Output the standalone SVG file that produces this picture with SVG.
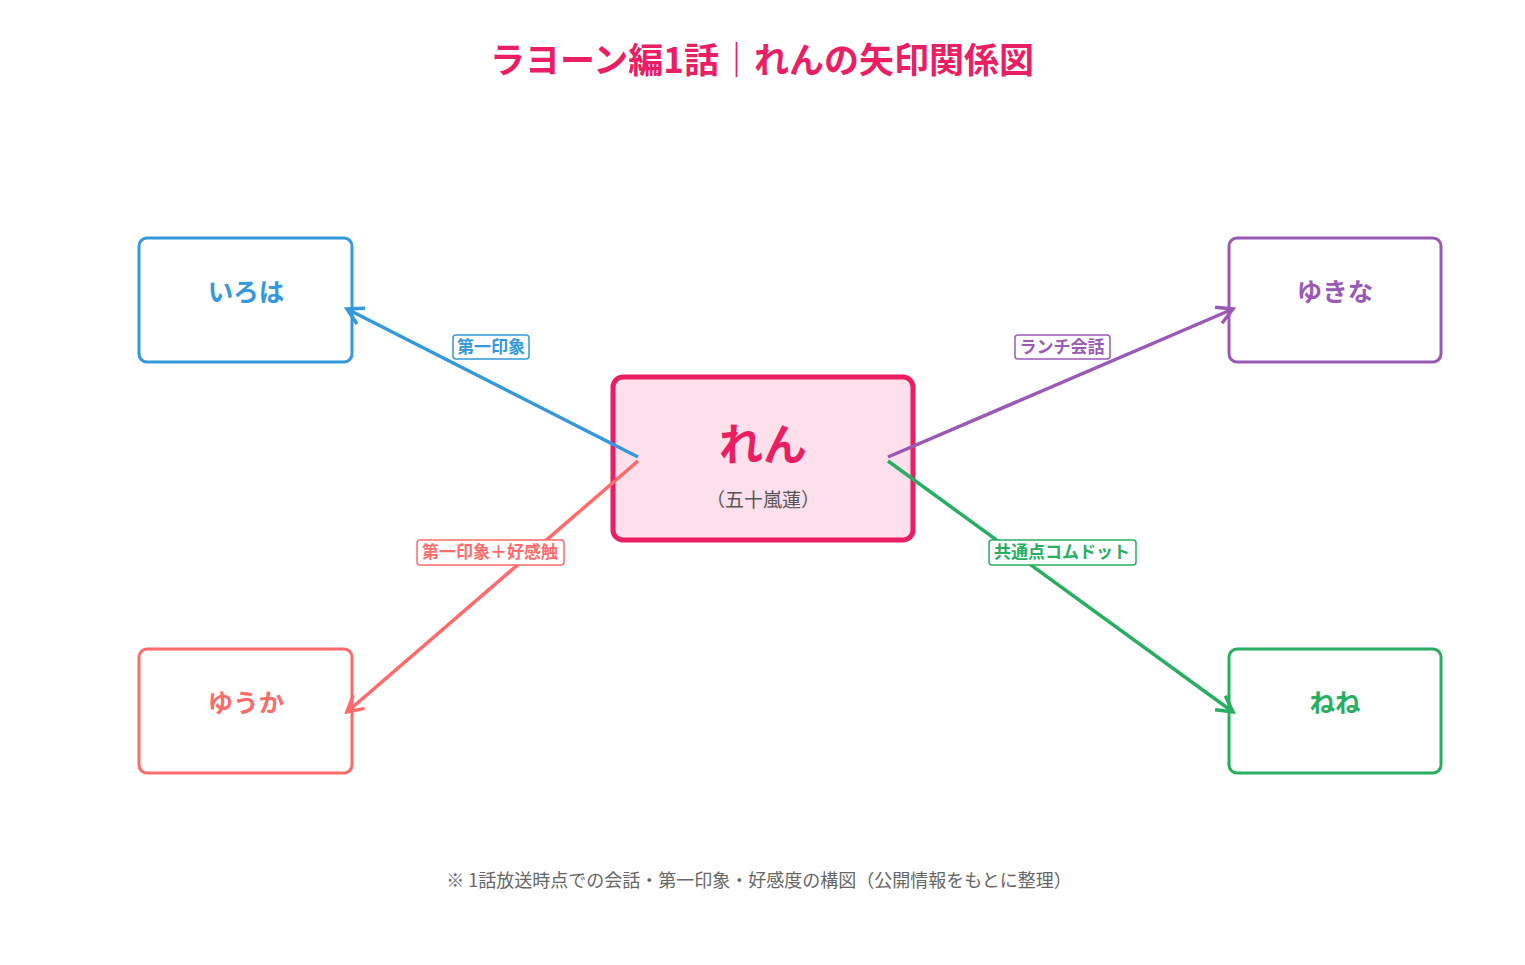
<svg xmlns="http://www.w3.org/2000/svg" width="1525" height="965" viewBox="0 0 1525 965">
<style>
text{font-family:"Noto Sans CJK JP","Noto Sans",sans-serif;text-anchor:middle}
.t{font-size:25.5px;font-weight:700}
.lb{font-size:17px;font-weight:700}
.lbx{fill:#fff;stroke-width:1.5}
.n{fill:#fff;stroke-width:3}
.e{fill:none;stroke-width:3.5}
</style>
<defs>
<marker id="mb" viewBox="0 0 12 12" refX="10" refY="6" markerWidth="6" markerHeight="6" orient="auto" markerUnits="strokeWidth"><path d="M1,1 L10,6 L1,11" fill="none" stroke="#3498db" stroke-width="2"/></marker>
<marker id="mp" viewBox="0 0 12 12" refX="10" refY="6" markerWidth="6" markerHeight="6" orient="auto" markerUnits="strokeWidth"><path d="M1,1 L10,6 L1,11" fill="none" stroke="#9b59b6" stroke-width="2"/></marker>
<marker id="mr" viewBox="0 0 12 12" refX="10" refY="6" markerWidth="6" markerHeight="6" orient="auto" markerUnits="strokeWidth"><path d="M1,1 L10,6 L1,11" fill="none" stroke="#ff6b6b" stroke-width="2"/></marker>
<marker id="mg" viewBox="0 0 12 12" refX="10" refY="6" markerWidth="6" markerHeight="6" orient="auto" markerUnits="strokeWidth"><path d="M1,1 L10,6 L1,11" fill="none" stroke="#27ae60" stroke-width="2"/></marker>
</defs>
<rect width="1525" height="965" fill="#fff"/>
<text x="762" y="73" font-size="35" font-weight="700" fill="#e91e63">ラヨーン編1話｜れんの矢印関係図</text>
<g id="ren"><rect x="613" y="377" width="300" height="163" rx="10" fill="#fde0ec" stroke="#e91e63" stroke-width="5"/>
<text x="763" y="461" font-size="44" font-weight="700" fill="#e91e63">れん</text>
<text x="763" y="507" font-size="19" fill="#555">（五十嵐蓮）</text></g>
<g id="iroha"><rect class="n" x="139" y="238" width="213" height="124" rx="8" stroke="#3498db"/><text class="t" x="246" y="301" fill="#3498db">いろは</text></g>
<g id="yukina"><rect class="n" x="1229" y="238" width="212" height="124" rx="8" stroke="#9b59b6"/><text class="t" x="1335" y="301" fill="#9b59b6">ゆきな</text></g>
<g id="yuka"><rect class="n" x="139" y="649" width="213" height="124" rx="8" stroke="#ff6b6b"/><text class="t" x="246" y="712" fill="#ff6b6b">ゆうか</text></g>
<g id="nene"><rect class="n" x="1229" y="649" width="212" height="124" rx="8" stroke="#27ae60"/><text class="t" x="1335" y="712" fill="#27ae60">ねね</text></g>
<g id="edges">
<line class="e" x1="638" y1="457" x2="347" y2="309" stroke="#3498db" marker-end="url(#mb)"/>
<line class="e" x1="888" y1="457" x2="1233" y2="309" stroke="#9b59b6" marker-end="url(#mp)"/>
<line class="e" x1="638" y1="461" x2="347" y2="712" stroke="#ff6b6b" marker-end="url(#mr)"/>
<line class="e" x1="888" y1="461" x2="1233" y2="712" stroke="#27ae60" marker-end="url(#mg)"/>
<rect class="lbx" x="453" y="335" width="76" height="24" rx="3" stroke="#3498db"/><text class="lb" x="491" y="353" fill="#3498db">第一印象</text>
<rect class="lbx" x="1015" y="335" width="95" height="24" rx="3" stroke="#9b59b6"/><text class="lb" x="1062" y="353" fill="#9b59b6">ランチ会話</text>
<rect class="lbx" x="417" y="540" width="147" height="25" rx="3" stroke="#ff6b6b"/><text class="lb" x="490" y="558" fill="#ff6b6b">第一印象＋好感触</text>
<rect class="lbx" x="989" y="540" width="147" height="25" rx="3" stroke="#27ae60"/><text class="lb" x="1062" y="558" fill="#27ae60">共通点コムドット</text>
</g>
<text x="759" y="887" font-size="18" fill="#666">※ 1話放送時点での会話・第一印象・好感度の構図（公開情報をもとに整理）</text>
</svg>
